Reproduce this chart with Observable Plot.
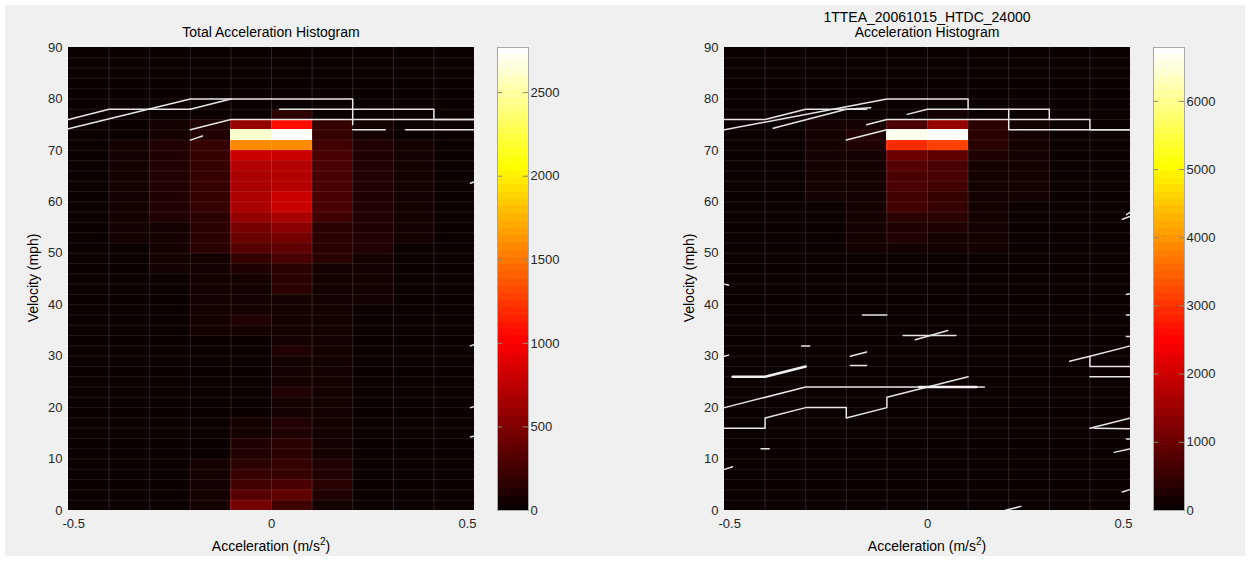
<!DOCTYPE html>
<html><head><meta charset="utf-8">
<script src="https://cdn.jsdelivr.net/npm/d3@7"></script>
<script src="https://cdn.jsdelivr.net/npm/@observablehq/plot@0.6"></script>
<style>
body{margin:0;background:#fff;}
#fig{position:relative;width:1249px;height:561px;background:#fff;overflow:hidden;font-family:"Liberation Sans",Arial,sans-serif;}
#bg{position:absolute;left:5px;top:5px;width:1240px;height:551px;background:#f0f0f0;}
.abs{position:absolute;left:0;top:0;}
.t{position:absolute;font-size:14px;color:#000;white-space:nowrap;transform:translate(-50%,-50%);line-height:1;}
.rot{transform:translate(-50%,-50%) rotate(-90deg);}
sup{font-size:10px;vertical-align:6px;line-height:0;}
</style></head><body>
<div id="fig"><div id="bg"></div></div>
<script>
// ---------- categories / ticks ----------
const accBins = [-0.5,-0.4,-0.3,-0.2,-0.1,0,0.1,0.2,0.3,0.4];          // lower edge of each acceleration bin
const velBins = [0,2,4,6,8,10,12,14,16,18,20,22,24,26,28,30,32,34,36,38,40,42,44,46,48,50,52,54,56,58,60,62,64,66,68,70,72,74,76,78,80,82,84,86,88];
const accBinWidth = 0.1, velBinHeight = 2;
const velTicks = [0,10,20,30,40,50,60,70,80,90];
const accTicks = [-0.5,0,0.5];
const leftCbTicks = [0,500,1000,1500,2000,2500];
const rightCbTicks = [0,1000,2000,3000,4000,5000,6000];
const leftMax = 2770, rightMax = 6790;

// ---------- left: Total Acceleration Histogram (counts, rows = velBins) ----------
const leftCol0 = [20,20,20,20,20,20,20,20,20,20, 20,20,20,20,20,20,20,20,20,20, 20,20,20,20,20,20,20,20,20,20, 20,20,20,20,20,20,20,20,0,0, 0,0,0,0,0];
const leftCol1 = [25,25,25,25,25,25,25,25,25,25, 25,25,25,25,25,25,25,25,25,25, 25,25,25,25,25,25,45,45,45,45, 45,45,45,45,45,45,30,30,0,0, 0,0,0,0,0];
const leftCol2 = [35,35,35,35,35,35,35,35,35,35, 35,35,35,35,35,35,35,35,35,35, 35,35,35,65,65,65,65,65,98,98, 98,98,98,98,98,98,81,81,0,0, 0,0,0,0,0];
const leftCol3 = [45,81,65,65,50,40,40,40,40,40, 40,40,40,40,40,40,40,65,65,65, 81,81,81,81,81,130,130,130,130,180, 180,180,180,180,195,180,100,100,30,0, 0,0,0,0,0];
const leftCol4 = [456,326,235,195,163,114,98,81,45,40, 40,40,40,40,40,40,40,45,98,45, 81,65,81,114,195,326,391,456,587,652, 652,652,685,717,782,1590,2620,600,30,0, 0,0,0,0,0];
const leftCol5 = [235,358,260,195,195,163,130,114,98,45, 45,98,45,45,45,98,45,45,65,45, 45,130,130,163,260,358,456,520,652,782, 782,717,717,717,782,1590,2770,1050,163,0, 0,0,0,0,0];
const leftCol6 = [45,100,130,100,98,60,45,45,45,45, 45,45,45,45,45,45,45,65,65,65, 81,81,81,81,130,130,170,170,235,260, 260,260,260,260,260,235,195,195,20,0, 0,0,0,0,0];
const leftCol7 = [40,40,40,40,40,40,40,40,40,40, 40,40,40,40,40,40,40,40,40,40, 65,65,65,65,65,100,100,100,100,100, 100,100,100,100,100,100,65,65,0,0, 0,0,0,0,0];
const leftCol8 = [30,30,30,30,30,30,30,30,30,30, 30,30,30,30,30,30,30,30,30,30, 30,30,30,30,30,30,55,55,55,55, 55,55,55,55,55,55,30,30,0,0, 0,0,0,0,0];
const leftCol9 = [20,20,20,20,20,20,20,20,20,20, 20,20,20,20,20,20,20,20,20,20, 20,20,20,20,20,20,20,20,20,20, 20,20,20,20,20,20,20,20,0,0, 0,0,0,0,0];

// ---------- right: 1TTEA_20061015_HTDC_24000 ----------
const rightCol0 = [30,30,30,30,30,30,30,30,30,30, 30,30,30,30,30,30,30,30,30,30, 30,30,30,30,30,30,30,30,30,30, 30,30,30,30,30,30,30,30,0,0, 0,0,0,0,0];
const rightCol1 = [30,30,30,30,30,30,30,30,30,30, 30,30,30,30,30,30,30,30,30,30, 30,30,30,30,30,30,30,30,30,30, 30,30,30,30,30,30,30,30,0,0, 0,0,0,0,0];
const rightCol2 = [40,40,40,40,40,40,40,40,40,40, 40,40,40,40,40,40,40,40,40,40, 40,40,40,40,40,40,40,40,40,40, 110,110,110,110,110,110,110,110,0,0, 0,0,0,0,0];
const rightCol3 = [50,50,50,50,50,50,50,50,50,50, 50,50,50,50,50,50,50,50,50,50, 50,50,50,50,50,180,180,180,180,180, 180,180,180,180,180,240,260,200,0,0, 0,0,0,0,0];
const rightCol4 = [60,60,60,60,60,60,60,60,60,60, 60,60,60,60,60,60,60,60,60,60, 60,60,60,60,60,200,220,260,420,560, 580,637,720,800,957,2950,6580,637,60,0, 0,0,0,0,0];
const rightCol5 = [60,60,60,60,60,60,60,60,60,60, 60,60,60,60,60,60,60,60,60,60, 60,60,60,60,60,180,200,240,360,480, 520,580,637,720,898,3180,6790,1438,120,0, 0,0,0,0,0];
const rightCol6 = [50,50,50,50,50,50,50,50,50,50, 50,50,50,50,50,50,50,50,50,50, 50,50,50,50,50,170,170,170,170,170, 170,170,170,170,260,420,420,320,0,0, 0,0,0,0,0];
const rightCol7 = [40,40,40,40,40,40,40,40,40,40, 40,40,40,40,40,40,40,40,40,40, 40,40,40,40,40,40,40,40,40,40, 110,110,110,110,110,110,110,110,0,0, 0,0,0,0,0];
const rightCol8 = [30,30,30,30,30,30,30,30,30,30, 30,30,30,30,30,30,30,30,30,30, 30,30,30,30,30,30,30,30,30,30, 30,30,30,30,30,30,30,30,0,0, 0,0,0,0,0];
const rightCol9 = [30,30,30,30,30,30,30,30,30,30, 30,30,30,30,30,30,30,30,30,30, 30,30,30,30,30,30,30,30,30,30, 30,30,30,30,30,30,30,30,0,0, 0,0,0,0,0];

// ---------- overlaid white traces, [acceleration, velocity] ----------
const leftTraces = [
  [[-0.5,76],[-0.4,78],[-0.2,78]],
  [[-0.5,74.2],[-0.2,80],[0.2,80],[0.2,75]],
  [[-0.2,78],[-0.1,80]],
  [[0.2,78],[0.4,78],[0.4,76],[0.5,76]],
  [[-0.2,74],[-0.1,76],[0.2,76],[0.5,76]],
  [[0.2,74],[0.28,74]], [[0.33,74],[0.5,74]],
  [[0.02,78],[0.2,78]],
  [[-0.2,72],[-0.17,72.8]],
  [[0.49,32],[0.5,32.3]], [[0.49,20],[0.5,20.2]], [[0.49,14.3],[0.5,14.5]], [[0.49,63.6],[0.5,63.9]]
];
const rightTraces = [
  [[-0.5,76],[-0.4,76],[-0.3,78],[-0.15,78]],
  [[-0.5,74],[-0.1,80],[0.1,80],[0.1,78],[0.3,78],[0.3,76],[0.4,76],[0.4,74],[0.5,74]],
  [[-0.38,74.3],[-0.2,78],[-0.14,78.3]],
  [[-0.15,75],[-0.1,76],[0.2,76],[0.2,74],[0.5,74]],
  [[0.2,78],[0.2,76],[0.3,76]],
  [[-0.05,77],[0,78],[0.1,78]],
  [[-0.2,72],[-0.1,74]],
  [[-0.5,20],[-0.3,24],[0.14,24]],
  [[-0.5,16],[-0.4,16],[-0.4,18],[-0.3,20],[-0.2,20],[-0.2,18],[-0.1,20],[-0.1,22],[0,24],[0.1,26]],
  [[-0.31,32],[-0.29,32]],
  [[-0.41,12],[-0.39,12]],
  [[0.35,29],[0.4,30],[0.5,32]],
  [[0.4,30],[0.4,28],[0.5,28]],
  [[0.4,26],[0.5,26]],
  [[0.4,16],[0.5,18]], [[0.41,16],[0.5,15.9]],
  [[0.46,11.3],[0.5,12]], [[0.48,3.6],[0.5,4.1]], [[0.49,13.9],[0.5,13.9]],
  [[-0.19,30],[-0.15,30.8]], [[-0.19,28.2],[-0.15,28.2]],
  [[-0.06,34],[0.07,34]], [[-0.03,33.2],[0.05,35]],
  [[-0.16,38],[-0.1,38]],
  [[0.19,0],[0.23,0.8]],
  [[-0.5,44],[-0.49,43.8]], [[-0.5,30],[-0.49,30.2]], [[-0.5,8],[-0.48,8.5]],
  [[0.49,57.5],[0.5,58]], [[0.48,56.6],[0.5,57.2]], [[0.49,42],[0.5,42.2]], [[0.49,38],[0.5,38]], [[0.49,33.8],[0.5,33.8]]
];
const rightThick = [ [[-0.48,26],[-0.4,26],[-0.3,28]], [[-0.02,24],[0.12,24]] ];

// ---------- MATLAB "hot" colormap (64 levels) ----------
function hot(t) {
  t = Math.max(0, Math.min(1, t));
  const k = Math.min(64, Math.floor(t * 64) + 1);
  const r = Math.min(1, k / 24), g = Math.max(0, Math.min(1, (k - 24) / 24)), b = Math.max(0, Math.min(1, (k - 48) / 16));
  return `rgb(${Math.round(r*255)},${Math.round(g*255)},${Math.round(b*255)})`;
}

const FONT = '"Liberation Sans", Arial, sans-serif';
const plainNum = d => String(d);

function heatmap(cols, max, traces, thick) {
  const cells = [];
  accBins.forEach((a, i) => cols[i].forEach((n, j) => cells.push({a, v: velBins[j], n})));
  const pts = [];
  traces.forEach((tr, k) => tr.forEach(([x, y]) => pts.push({k, x, y})));
  const tpts = [];
  thick.forEach((tr, k) => tr.forEach(([x, y]) => tpts.push({k, x, y})));
  return Plot.plot({
    width: 480, height: 561,
    marginLeft: 68, marginRight: 6, marginTop: 47, marginBottom: 51,
    x: {domain: [-0.5, 0.5]},
    y: {domain: [0, 90]},
    color: {type: "linear", domain: [0, max], interpolate: hot},
    style: {background: "transparent", fontFamily: FONT, fontSize: "13px", color: "#262626", overflow: "visible"},
    marks: [
      Plot.rect(cells, {x1: "a", x2: d => d.a + accBinWidth, y1: "v", y2: d => d.v + velBinHeight, fill: "n", shapeRendering: "crispEdges"}),
      Plot.ruleX(accBins.slice(1), {stroke: "#ffffff", strokeOpacity: 0.14}),
      Plot.ruleY(velBins.slice(1), {stroke: "#ffffff", strokeOpacity: 0.09}),
      Plot.line(pts, {x: "x", y: "y", z: "k", stroke: "#e4e4e4", strokeWidth: 1.5}),
      Plot.line(tpts, {x: "x", y: "y", z: "k", stroke: "#f2f2f2", strokeWidth: 2.6}),
      Plot.axisY({ticks: velTicks, tickSize: 0, tickPadding: 6, tickFormat: plainNum, label: null}),
      Plot.axisX({ticks: [accTicks[0]], tickSize: 0, tickPadding: 8, textAnchor: "start", dx: -6, tickFormat: plainNum, label: null}),
      Plot.axisX({ticks: [accTicks[1]], tickSize: 0, tickPadding: 8, tickFormat: plainNum, label: null}),
      Plot.axisX({ticks: [accTicks[2]], tickSize: 0, tickPadding: 8, textAnchor: "end", dx: 2, tickFormat: plainNum, label: null})
    ]
  });
}

function colorbar(max, ticks) {
  const levels = d3.range(64);
  return Plot.plot({
    width: 80, height: 561,
    marginLeft: 0, marginRight: 49, marginTop: 47, marginBottom: 51,
    x: {domain: [0, 1], axis: null},
    y: {domain: [0, max]},
    color: {type: "linear", domain: [0, max], interpolate: hot},
    style: {background: "transparent", fontFamily: FONT, fontSize: "13px", color: "#262626", overflow: "visible"},
    marks: [
      Plot.rect(levels, {x1: 0, x2: 1, y1: i => i * max / 64, y2: i => (i + 1) * max / 64, fill: i => (i + 0.5) * max / 64, shapeRendering: "crispEdges"}),
      Plot.ruleY(ticks, {x1: 0, x2: 0.17, stroke: "#8c8c70"}),
      Plot.ruleY(ticks, {x1: 0.83, x2: 1, stroke: "#8c8c70"}),
      Plot.frame({stroke: "#a8a8a8"}),
      Plot.axisY({anchor: "right", ticks, tickSize: 0, tickPadding: 2, tickFormat: plainNum, label: null})
    ]
  });
}

const fig = document.getElementById("fig");
function place(node, left, top) {
  const d = document.createElement("div");
  d.className = "abs"; d.style.left = left + "px"; d.style.top = top + "px";
  d.appendChild(node); fig.appendChild(d);
}
function text(html, x, y, rot) {
  const d = document.createElement("div");
  d.className = "t" + (rot ? " rot" : "");
  d.style.left = x + "px"; d.style.top = y + "px";
  d.innerHTML = html; fig.appendChild(d);
}

place(heatmap([leftCol0,leftCol1,leftCol2,leftCol3,leftCol4,leftCol5,leftCol6,leftCol7,leftCol8,leftCol9], leftMax, leftTraces, []), 0, 0);
place(colorbar(leftMax, leftCbTicks), 497, 0);
place(heatmap([rightCol0,rightCol1,rightCol2,rightCol3,rightCol4,rightCol5,rightCol6,rightCol7,rightCol8,rightCol9], rightMax, rightTraces, rightThick), 656, 0);
place(colorbar(rightMax, rightCbTicks), 1153, 0);

text("Total Acceleration Histogram", 271, 32);
text("1TTEA_20061015_HTDC_24000", 927, 17);
text("Acceleration Histogram", 927, 32);
text("Acceleration (m/s<sup>2</sup>)", 271, 546);
text("Acceleration (m/s<sup>2</sup>)", 927, 546);
text("Velocity (mph)", 33, 278, true);
text("Velocity (mph)", 689, 278, true);
</script></body></html>
